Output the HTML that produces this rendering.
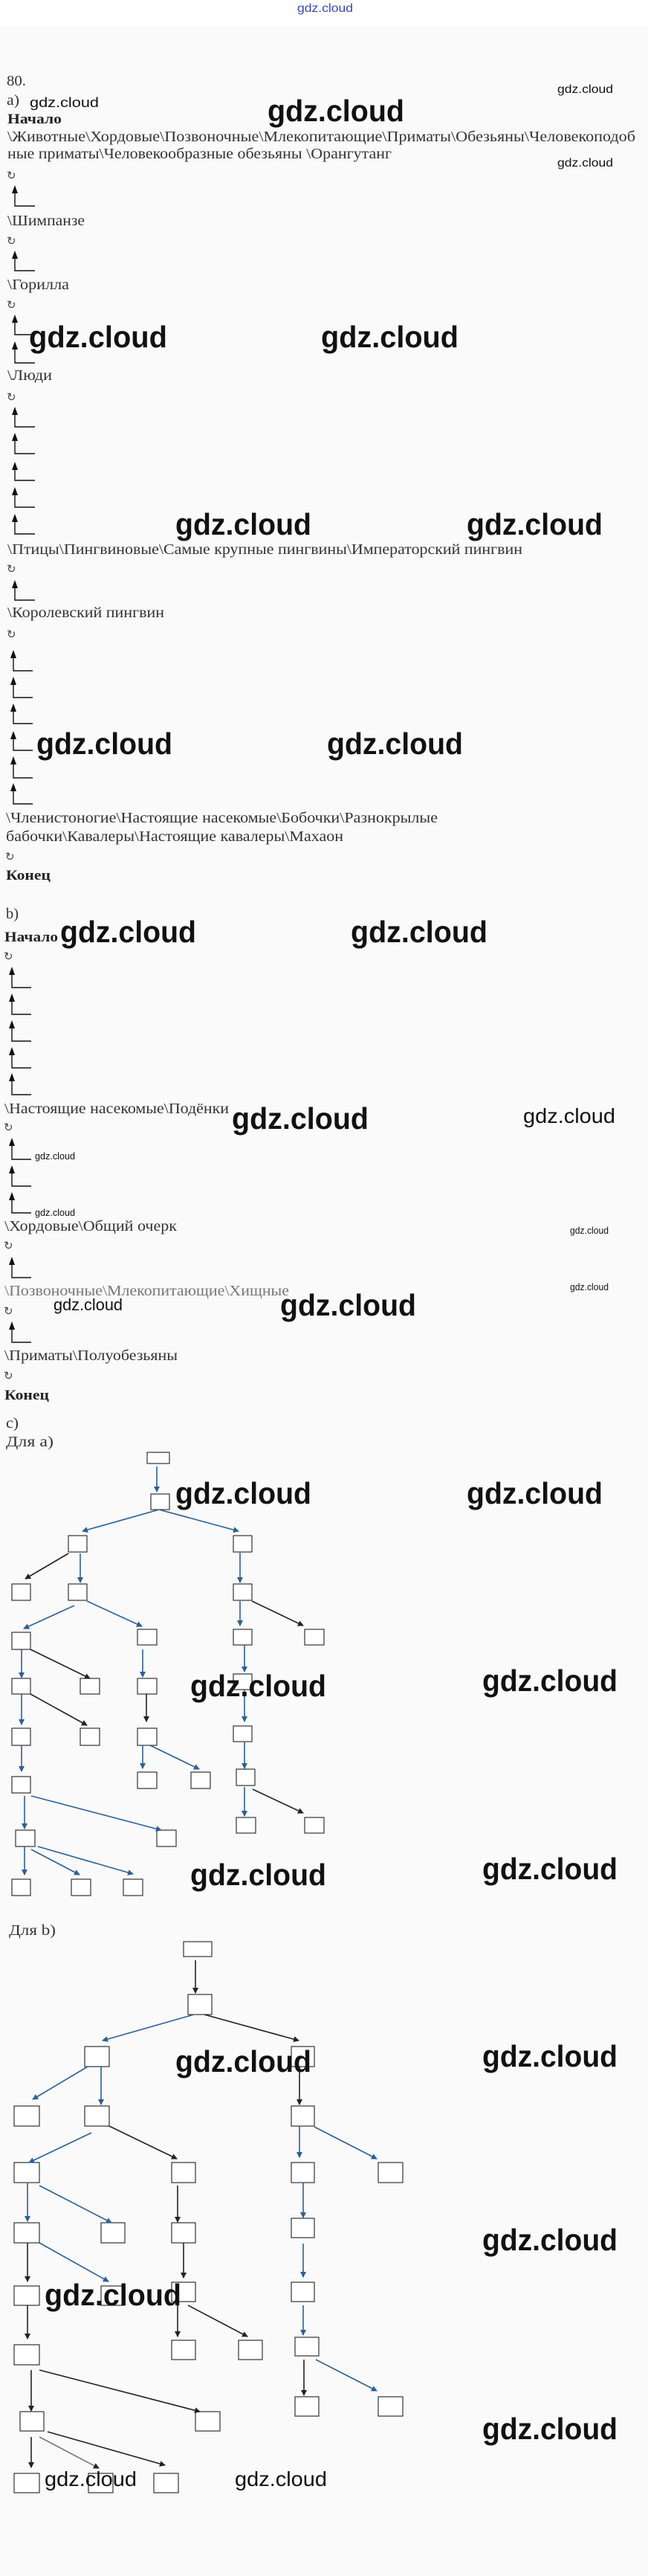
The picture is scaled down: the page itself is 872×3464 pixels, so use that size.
<!DOCTYPE html>
<html><head><meta charset="utf-8"><style>
html,body{margin:0;padding:0;background:#fafafa}
svg{display:block}
.t{font-family:"Liberation Serif","DejaVu Serif",serif;font-size:20px;fill:#333}
.b{font-family:"Liberation Serif","DejaVu Serif",serif;font-size:19px;font-weight:bold;fill:#222}
.w{font-family:"Liberation Sans","DejaVu Sans",sans-serif;fill:#111}
.r{font-family:"DejaVu Sans",sans-serif;font-size:15px;fill:#444}
.bx{fill:#fff;stroke:#333;stroke-width:1.2}
.bl{stroke:#2a6099;stroke-width:1.6;fill:none}
.bk{stroke:#222;stroke-width:1.6;fill:none}
</style></head><body>
<svg width="872" height="3464" viewBox="0 0 872 3464" xmlns="http://www.w3.org/2000/svg">
<defs>
<marker id="mb" markerWidth="8" markerHeight="8" refX="7" refY="4" orient="auto" markerUnits="userSpaceOnUse"><path d="M0,0 L8,4 L0,8 z" fill="#2a6099"/></marker>
<marker id="mk" markerWidth="8" markerHeight="8" refX="7" refY="4" orient="auto" markerUnits="userSpaceOnUse"><path d="M0,0 L8,4 L0,8 z" fill="#222"/></marker>
</defs>
<rect x="0" y="0" width="872" height="35" fill="#fff"/>
<text class="w" x="400" y="16" font-size="16" textLength="75" lengthAdjust="spacingAndGlyphs" style="fill:#3344cc">gdz.cloud</text>

<text class="t" x="9" y="115" textLength="26" lengthAdjust="spacingAndGlyphs">80.</text>
<text class="t" x="9" y="141" textLength="17" lengthAdjust="spacingAndGlyphs">a)</text>
<text class="b" x="10" y="166" textLength="73" lengthAdjust="spacingAndGlyphs">Начало</text>
<text class="t" x="10" y="190" textLength="845" lengthAdjust="spacingAndGlyphs">\Животные\Хордовые\Позвоночные\Млекопитающие\Приматы\Обезьяны\Человекоподоб</text>
<text class="t" x="10" y="213" textLength="517" lengthAdjust="spacingAndGlyphs">ные приматы\Человекообразные обезьяны \Орангутанг</text>
<text class="t" x="10" y="303" textLength="104" lengthAdjust="spacingAndGlyphs">\Шимпанзе</text>
<text class="t" x="10" y="389" textLength="83" lengthAdjust="spacingAndGlyphs">\Горилла</text>
<text class="t" x="10" y="511" textLength="60" lengthAdjust="spacingAndGlyphs">\Люди</text>
<text class="t" x="10" y="745" textLength="693" lengthAdjust="spacingAndGlyphs">\Птицы\Пингвиновые\Самые крупные пингвины\Императорский пингвин</text>
<text class="t" x="10" y="830" textLength="211" lengthAdjust="spacingAndGlyphs">\Королевский пингвин</text>
<text class="t" x="8" y="1106" textLength="581" lengthAdjust="spacingAndGlyphs">\Членистоногие\Настоящие насекомые\Бобочки\Разнокрылые</text>
<text class="t" x="8" y="1131" textLength="454" lengthAdjust="spacingAndGlyphs">бабочки\Кавалеры\Настоящие кавалеры\Махаон</text>
<text class="b" x="8" y="1183" textLength="60" lengthAdjust="spacingAndGlyphs">Конец</text>

<text class="t" x="8" y="1235" textLength="17" lengthAdjust="spacingAndGlyphs">b)</text>
<text class="b" x="6" y="1266" textLength="72" lengthAdjust="spacingAndGlyphs">Начало</text>
<text class="t" x="6" y="1497" textLength="302" lengthAdjust="spacingAndGlyphs">\Настоящие насекомые\Подёнки</text>
<text class="t" x="6" y="1655" textLength="232" lengthAdjust="spacingAndGlyphs">\Хордовые\Общий очерк</text>
<text class="t" x="6" y="1742" textLength="383" lengthAdjust="spacingAndGlyphs" style="fill:#777">\Позвоночные\Млекопитающие\Хищные</text>
<text class="t" x="6" y="1829" textLength="233" lengthAdjust="spacingAndGlyphs">\Приматы\Полуобезьяны</text>
<text class="b" x="6" y="1882" textLength="60" lengthAdjust="spacingAndGlyphs">Конец</text>

<text class="t" x="8" y="1920" textLength="17" lengthAdjust="spacingAndGlyphs">c)</text>
<text class="t" x="8" y="1945" textLength="64" lengthAdjust="spacingAndGlyphs">Для а)</text>
<text class="t" x="12" y="2602" textLength="63" lengthAdjust="spacingAndGlyphs">Для b)</text>

<g class="r">
<text x="9" y="241">↻</text><text x="9" y="329">↻</text><text x="9" y="415">↻</text>
<text x="9" y="539">↻</text><text x="9" y="770">↻</text><text x="9" y="858">↻</text>
<text x="7" y="1157">↻</text><text x="5" y="1291">↻</text><text x="5" y="1521">↻</text>
<text x="5" y="1680">↻</text><text x="5" y="1768">↻</text><text x="5" y="1855">↻</text>
</g>

<g fill="none" stroke="#111" stroke-width="1.4">
<path d="M20,259V277H47M20,347V364H47M20,433V450H47M20,469V488H47M20,557V574H47M20,592V610H47M20,631V646H47M20,665V682H47M20,701V718H47M20,790V807H47"/>
<path d="M18,884V902H44M18,920V938H44M18,956V973H44M18,993V1009H44M18,1027V1046H44M18,1063V1081H44"/>
<path d="M16,1310V1328H42M16,1346V1364H42M16,1382V1400H42M16,1418V1436H42M16,1453V1472H42M16,1540V1559H42M16,1577V1595H42M16,1613V1631H42M16,1700V1718H42M16,1787V1805H42"/>
</g>
<g fill="#111">
<path d="M20,249l-4,11h8zM20,337l-4,11h8zM20,423l-4,11h8zM20,459l-4,11h8zM20,547l-4,11h8zM20,582l-4,11h8zM20,621l-4,11h8zM20,655l-4,11h8zM20,691l-4,11h8zM20,780l-4,11h8z"/>
<path d="M18,874l-4,11h8zM18,910l-4,11h8zM18,946l-4,11h8zM18,983l-4,11h8zM18,1017l-4,11h8zM18,1053l-4,11h8z"/>
<path d="M16,1300l-4,11h8zM16,1336l-4,11h8zM16,1372l-4,11h8zM16,1408l-4,11h8zM16,1443l-4,11h8zM16,1530l-4,11h8zM16,1567l-4,11h8zM16,1603l-4,11h8zM16,1690l-4,11h8zM16,1777l-4,11h8z"/>
</g>

<g>
<rect class="bx" x="198" y="1953" width="30" height="15"/>
<rect class="bx" x="203" y="2009" width="25" height="21"/>
<rect class="bx" x="92" y="2065" width="25" height="22"/><rect class="bx" x="314" y="2065" width="25" height="22"/>
<rect class="bx" x="16" y="2130" width="25" height="22"/><rect class="bx" x="92" y="2130" width="25" height="22"/><rect class="bx" x="314" y="2130" width="25" height="22"/>
<rect class="bx" x="16" y="2195" width="25" height="23"/><rect class="bx" x="185" y="2191" width="26" height="21"/><rect class="bx" x="314" y="2191" width="25" height="21"/><rect class="bx" x="410" y="2191" width="26" height="21"/>
<rect class="bx" x="16" y="2257" width="25" height="21"/><rect class="bx" x="108" y="2257" width="26" height="21"/><rect class="bx" x="185" y="2257" width="26" height="21"/><rect class="bx" x="314" y="2251" width="25" height="21"/>
<rect class="bx" x="16" y="2324" width="25" height="23"/><rect class="bx" x="108" y="2324" width="26" height="23"/><rect class="bx" x="185" y="2324" width="26" height="23"/><rect class="bx" x="314" y="2321" width="25" height="21"/>
<rect class="bx" x="16" y="2389" width="25" height="22"/><rect class="bx" x="185" y="2383" width="26" height="22"/><rect class="bx" x="257" y="2383" width="26" height="22"/><rect class="bx" x="318" y="2379" width="25" height="22"/>
<rect class="bx" x="21" y="2461" width="26" height="22"/><rect class="bx" x="211" y="2461" width="26" height="22"/><rect class="bx" x="318" y="2444" width="26" height="21"/><rect class="bx" x="410" y="2444" width="26" height="21"/>
<rect class="bx" x="16" y="2527" width="25" height="22"/><rect class="bx" x="96" y="2527" width="26" height="22"/><rect class="bx" x="166" y="2527" width="26" height="22"/>

<path class="bl" marker-end="url(#mb)" d="M211,1972V2006"/>
<path class="bl" marker-end="url(#mb)" d="M214,2030L111,2059"/>
<path class="bl" marker-end="url(#mb)" d="M214,2030L321,2059"/>
<path class="bk" marker-end="url(#mk)" d="M92,2089L34,2123"/>
<path class="bl" marker-end="url(#mb)" d="M108,2089V2128"/>
<path class="bl" marker-end="url(#mb)" d="M323,2088V2128"/>
<path class="bl" marker-end="url(#mb)" d="M100,2159L32,2190"/>
<path class="bl" marker-end="url(#mb)" d="M117,2153L191,2187"/>
<path class="bl" marker-end="url(#mb)" d="M323,2153V2186"/>
<path class="bk" marker-end="url(#mk)" d="M339,2153L408,2186"/>
<path class="bl" marker-end="url(#mb)" d="M29,2218V2256"/>
<path class="bk" marker-end="url(#mk)" d="M41,2218L121,2257"/>
<path class="bl" marker-end="url(#mb)" d="M192,2218V2255"/>
<path class="bl" marker-end="url(#mb)" d="M329,2212V2248"/>
<path class="bl" marker-end="url(#mb)" d="M29,2278V2319"/>
<path class="bk" marker-end="url(#mk)" d="M41,2278L117,2320"/>
<path class="bk" marker-end="url(#mk)" d="M197,2278V2315"/>
<path class="bl" marker-end="url(#mb)" d="M329,2272V2315"/>
<path class="bl" marker-end="url(#mb)" d="M29,2347V2382"/>
<path class="bl" marker-end="url(#mb)" d="M192,2347V2378"/>
<path class="bl" marker-end="url(#mb)" d="M202,2347L268,2379"/>
<path class="bl" marker-end="url(#mb)" d="M329,2342V2378"/>
<path class="bl" marker-end="url(#mb)" d="M33,2415V2459"/>
<path class="bl" marker-end="url(#mb)" d="M42,2415L217,2461"/>
<path class="bl" marker-end="url(#mb)" d="M329,2403V2442"/>
<path class="bk" marker-end="url(#mk)" d="M340,2406L408,2438"/>
<path class="bl" marker-end="url(#mb)" d="M33,2483V2521"/>
<path class="bl" marker-end="url(#mb)" d="M42,2487L107,2521"/>
<path class="bl" marker-end="url(#mb)" d="M51,2483L179,2520"/>
</g>

<g>
<rect class="bx" x="247" y="2611" width="38" height="20"/>
<rect class="bx" x="253" y="2682" width="32" height="27"/>
<rect class="bx" x="114" y="2752" width="33" height="27"/><rect class="bx" x="392" y="2752" width="31" height="27"/>
<rect class="bx" x="19" y="2832" width="34" height="27"/><rect class="bx" x="114" y="2832" width="33" height="27"/><rect class="bx" x="392" y="2832" width="31" height="27"/>
<rect class="bx" x="19" y="2908" width="34" height="27"/><rect class="bx" x="231" y="2908" width="32" height="27"/><rect class="bx" x="392" y="2908" width="31" height="27"/><rect class="bx" x="509" y="2908" width="33" height="27"/>
<rect class="bx" x="19" y="2989" width="34" height="27"/><rect class="bx" x="136" y="2989" width="32" height="27"/><rect class="bx" x="231" y="2989" width="32" height="27"/><rect class="bx" x="392" y="2983" width="31" height="26"/>
<rect class="bx" x="19" y="3074" width="34" height="26"/><rect class="bx" x="136" y="3074" width="31" height="26"/><rect class="bx" x="231" y="3069" width="32" height="26"/><rect class="bx" x="392" y="3069" width="31" height="26"/>
<rect class="bx" x="19" y="3153" width="34" height="27"/><rect class="bx" x="231" y="3147" width="32" height="26"/><rect class="bx" x="321" y="3147" width="32" height="26"/><rect class="bx" x="397" y="3143" width="32" height="25"/>
<rect class="bx" x="27" y="3243" width="32" height="26"/><rect class="bx" x="263" y="3243" width="33" height="26"/><rect class="bx" x="397" y="3223" width="32" height="26"/><rect class="bx" x="509" y="3223" width="33" height="26"/>
<rect class="bx" x="19" y="3326" width="34" height="26"/><rect class="bx" x="119" y="3326" width="33" height="26"/><rect class="bx" x="207" y="3326" width="33" height="26"/>

<path class="bk" marker-end="url(#mk)" d="M263,2636V2680"/>
<path class="bl" marker-end="url(#mb)" d="M261,2709L138,2744"/>
<path class="bk" marker-end="url(#mk)" d="M275,2709L402,2744"/>
<path class="bl" marker-end="url(#mb)" d="M118,2779L44,2823"/>
<path class="bl" marker-end="url(#mb)" d="M136,2779V2830"/>
<path class="bk" marker-end="url(#mk)" d="M403,2779V2830"/>
<path class="bl" marker-end="url(#mb)" d="M123,2868L39,2908"/>
<path class="bk" marker-end="url(#mk)" d="M147,2859L238,2903"/>
<path class="bl" marker-end="url(#mb)" d="M403,2859V2901"/>
<path class="bl" marker-end="url(#mb)" d="M423,2860L507,2903"/>
<path class="bl" marker-end="url(#mb)" d="M37,2935V2987"/>
<path class="bl" marker-end="url(#mb)" d="M53,2939L150,2989"/>
<path class="bk" marker-end="url(#mk)" d="M239,2939V2988"/>
<path class="bl" marker-end="url(#mb)" d="M408,2935V2982"/>
<path class="bk" marker-end="url(#mk)" d="M37,3016V3068"/>
<path class="bl" marker-end="url(#mb)" d="M53,3016L146,3068"/>
<path class="bk" marker-end="url(#mk)" d="M247,3016V3063"/>
<path class="bl" marker-end="url(#mb)" d="M408,3017V3062"/>
<path class="bk" marker-end="url(#mk)" d="M37,3100V3145"/>
<path class="bk" marker-end="url(#mk)" d="M239,3095V3142"/>
<path class="bk" marker-end="url(#mk)" d="M253,3100L333,3142"/>
<path class="bl" marker-end="url(#mb)" d="M408,3100V3140"/>
<path class="bk" marker-end="url(#mk)" d="M42,3187V3242"/>
<path class="bk" marker-end="url(#mk)" d="M53,3187L269,3243"/>
<path class="bk" marker-end="url(#mk)" d="M409,3173V3221"/>
<path class="bl" marker-end="url(#mb)" d="M425,3173L507,3215"/>
<path class="bk" marker-end="url(#mk)" d="M42,3277V3318"/>
<path class="bk" marker-end="url(#mk)" d="M53,3277L133,3319" style="stroke:#777"/>
<path class="bk" marker-end="url(#mk)" d="M64,3270L222,3315"/>
</g>

<g class="w">
<text x="750" y="125" font-size="16" textLength="75" lengthAdjust="spacingAndGlyphs">gdz.cloud</text>
<text x="750" y="224" font-size="16" textLength="75" lengthAdjust="spacingAndGlyphs">gdz.cloud</text>
<text x="40" y="144" font-size="18" textLength="93" lengthAdjust="spacingAndGlyphs">gdz.cloud</text>
<text x="704" y="1510" font-size="28" textLength="124" lengthAdjust="spacingAndGlyphs">gdz.cloud</text>
<text x="72" y="1762" font-size="22" textLength="93" lengthAdjust="spacingAndGlyphs">gdz.cloud</text>
<text x="60" y="3343" font-size="28" textLength="124" lengthAdjust="spacingAndGlyphs">gdz.cloud</text>
<text x="316" y="3343" font-size="28" textLength="124" lengthAdjust="spacingAndGlyphs">gdz.cloud</text>
<text x="47" y="1559" font-size="13" textLength="54" lengthAdjust="spacingAndGlyphs">gdz.cloud</text>
<text x="47" y="1635" font-size="13" textLength="54" lengthAdjust="spacingAndGlyphs">gdz.cloud</text>
<text x="767" y="1659" font-size="13" textLength="52" lengthAdjust="spacingAndGlyphs">gdz.cloud</text>
<text x="767" y="1735" font-size="13" textLength="52" lengthAdjust="spacingAndGlyphs">gdz.cloud</text>
<g font-size="41" font-weight="bold">
<text x="360" y="163" textLength="184" lengthAdjust="spacingAndGlyphs">gdz.cloud</text>
<text x="39" y="467" textLength="186" lengthAdjust="spacingAndGlyphs">gdz.cloud</text>
<text x="432" y="467" textLength="185" lengthAdjust="spacingAndGlyphs">gdz.cloud</text>
<text x="236" y="719" textLength="183" lengthAdjust="spacingAndGlyphs">gdz.cloud</text>
<text x="628" y="719" textLength="183" lengthAdjust="spacingAndGlyphs">gdz.cloud</text>
<text x="49" y="1014" textLength="183" lengthAdjust="spacingAndGlyphs">gdz.cloud</text>
<text x="440" y="1014" textLength="183" lengthAdjust="spacingAndGlyphs">gdz.cloud</text>
<text x="81" y="1267" textLength="183" lengthAdjust="spacingAndGlyphs">gdz.cloud</text>
<text x="472" y="1267" textLength="184" lengthAdjust="spacingAndGlyphs">gdz.cloud</text>
<text x="312" y="1518" textLength="184" lengthAdjust="spacingAndGlyphs">gdz.cloud</text>
<text x="377" y="1769" textLength="183" lengthAdjust="spacingAndGlyphs">gdz.cloud</text>
<text x="236" y="2022" textLength="183" lengthAdjust="spacingAndGlyphs">gdz.cloud</text>
<text x="628" y="2022" textLength="183" lengthAdjust="spacingAndGlyphs">gdz.cloud</text>
<text x="256" y="2281" textLength="183" lengthAdjust="spacingAndGlyphs">gdz.cloud</text>
<text x="649" y="2274" textLength="182" lengthAdjust="spacingAndGlyphs">gdz.cloud</text>
<text x="256" y="2535" textLength="183" lengthAdjust="spacingAndGlyphs">gdz.cloud</text>
<text x="649" y="2527" textLength="182" lengthAdjust="spacingAndGlyphs">gdz.cloud</text>
<text x="236" y="2786" textLength="183" lengthAdjust="spacingAndGlyphs">gdz.cloud</text>
<text x="649" y="2779" textLength="182" lengthAdjust="spacingAndGlyphs">gdz.cloud</text>
<text x="649" y="3026" textLength="182" lengthAdjust="spacingAndGlyphs">gdz.cloud</text>
<text x="60" y="3100" textLength="184" lengthAdjust="spacingAndGlyphs">gdz.cloud</text>
<text x="649" y="3280" textLength="182" lengthAdjust="spacingAndGlyphs">gdz.cloud</text>
</g>
</g>
</svg>
</body></html>
